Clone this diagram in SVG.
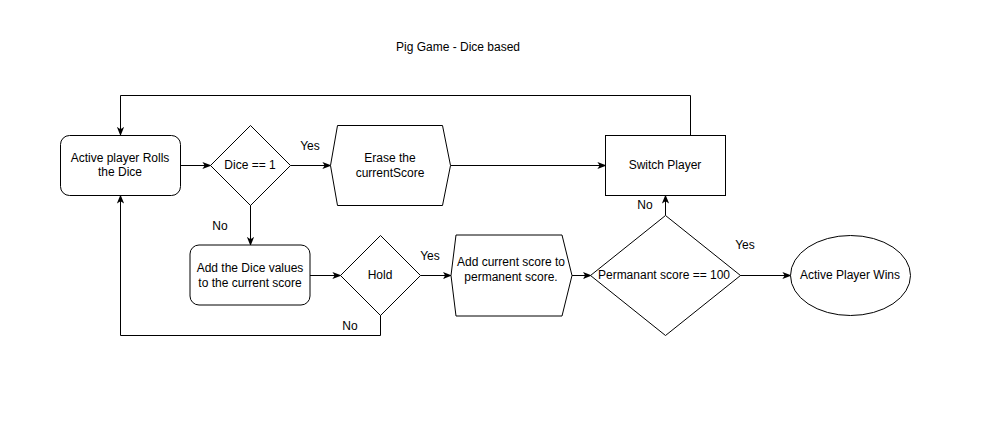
<svg xmlns="http://www.w3.org/2000/svg" width="981" height="441" viewBox="0 0 981 441">
<defs>
<style>
text{font-family:"Liberation Sans",Arial,sans-serif;font-size:12px;fill:#000;text-anchor:middle}
.n{fill:#fff;stroke:#000;stroke-width:1}
.c{fill:none;stroke:#000;stroke-width:1}
</style>
<marker id="a" viewBox="0 0 10 10" refX="9" refY="5" markerWidth="9" markerHeight="9" markerUnits="userSpaceOnUse" orient="auto">
<path d="M0,1 L10,5 L0,9 L2.5,5 z" fill="#000"/>
</marker>
</defs>
<rect width="981" height="441" fill="#fff"/>
<text x="458" y="51">Pig Game - Dice based</text>
<g id="connectors">
<path class="c" d="M180.5,165.5 H210.5" marker-end="url(#a)"/>
<path class="c" d="M290.5,165.5 H330.5" marker-end="url(#a)"/>
<path class="c" d="M450.5,165.5 H605.5" marker-end="url(#a)"/>
<path class="c" d="M690.5,135 V95.5 H120.5 V135" marker-end="url(#a)"/>
<path class="c" d="M250.5,205 V245" marker-end="url(#a)"/>
<path class="c" d="M310,275.5 H340.5" marker-end="url(#a)"/>
<path class="c" d="M420.5,275.5 H451" marker-end="url(#a)"/>
<path class="c" d="M380.5,315 V335.5 H120.5 V195.5" marker-end="url(#a)"/>
<path class="c" d="M571,275.5 H591" marker-end="url(#a)"/>
<path class="c" d="M740,275.5 H790.5" marker-end="url(#a)"/>
<path class="c" d="M665.5,215.5 V195.5" marker-end="url(#a)"/>
<text x="310" y="150">Yes</text>
<text x="220" y="230">No</text>
<text x="430" y="260">Yes</text>
<text x="350" y="330">No</text>
<text x="645" y="209">No</text>
<text x="745" y="249">Yes</text>
</g>
<g id="roll">
<rect class="n" x="60.5" y="135.5" width="120" height="60" rx="9"/>
<text x="120" y="162">Active player Rolls</text>
<text x="120" y="176">the Dice</text>
</g>
<g id="dice1">
<polygon class="n" points="250.5,125.5 290.5,165.5 250.5,205.5 210.5,165.5"/>
<text x="250" y="169">Dice == 1</text>
</g>
<g id="erase">
<polygon class="n" points="330.5,165.5 337.5,125.5 442.5,125.5 450.5,165.5 442.5,205.5 337.5,205.5"/>
<text x="390" y="162">Erase the</text>
<text x="390" y="177">currentScore</text>
</g>
<g id="switch">
<rect class="n" x="605.5" y="135.5" width="120" height="60"/>
<text x="665" y="169">Switch Player</text>
</g>
<g id="add">
<rect class="n" x="190" y="245" width="120" height="60" rx="9" stroke-width="1.2"/>
<text x="250" y="272">Add the Dice values</text>
<text x="250" y="287">to the current score</text>
</g>
<g id="hold">
<polygon class="n" points="380.5,235.5 420.5,275.5 380.5,315.5 340.5,275.5"/>
<text x="380" y="279">Hold</text>
</g>
<g id="addperm">
<polygon class="n" points="451,275.5 456,235 562,235 572,275.5 562,316 456,316" stroke-width="1.2"/>
<text x="511" y="266">Add current score to</text>
<text x="511" y="281">permanent score.</text>
</g>
<g id="perm">
<polygon class="n" points="665.5,215.5 740.5,275.5 665.5,335.5 590.5,275.5"/>
<text x="664" y="279">Permanant score == 100</text>
</g>
<g id="wins">
<ellipse class="n" cx="850.5" cy="275.5" rx="60" ry="40"/>
<text x="850" y="279">Active Player Wins</text>
</g>
</svg>
